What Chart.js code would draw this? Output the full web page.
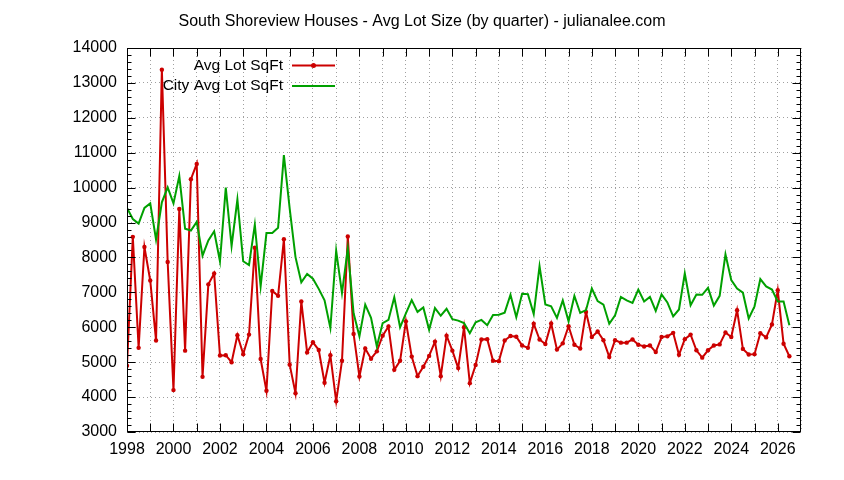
<!DOCTYPE html>
<html>
<head>
<meta charset="utf-8">
<script src="https://cdn.jsdelivr.net/npm/chart.js@4.4.1/dist/chart.umd.min.js"></script>
<style>
html,body{margin:0;padding:0;background:#fff;}
#wrap{width:844px;height:480px;}
</style>
</head>
<body>
<div id="wrap"><canvas id="c" width="844" height="480"></canvas></div>
<script>
const titleText = 'South Shoreview Houses - Avg Lot Size (by quarter) - julianalee.com';
const seriesNames = ['Avg Lot SqFt', 'City Avg Lot SqFt'];
const startYear = 1998;           // first quarter of the series
const quartersPerYear = 4;

// Quarterly values, 1998 Q1 .. 2026 Q3
const avgLotSqFt = [
  4900, 8590, 5410, 8300,
  7340, 5620, 13380, 7870,
  4200, 9390, 5330, 10240,
  10680, 4580, 7230, 7540,
  5190, 5200, 5000, 5770,
  5230, 5790, 8280, 5090,
  4180, 7040, 6900, 8520,
  4930, 4110, 6740, 5280,
  5570, 5350, 4410, 5200,
  3880, 5040, 8600, 5810,
  4590, 5390, 5100, 5310,
  5760, 6020, 4780, 5040,
  6170, 5160, 4600, 4870,
  5180, 5590, 4600, 5760,
  5330, 4830, 6000, 4400,
  4920, 5650, 5660, 5040,
  5030, 5620, 5750, 5730,
  5480, 5410, 6100, 5650,
  5520, 6110, 5360, 5540,
  6030, 5500, 5390, 6440,
  5720, 5880, 5630, 5150,
  5630, 5560, 5560, 5650,
  5500, 5450, 5480, 5290,
  5720, 5740, 5840, 5210,
  5660, 5790, 5340, 5130,
  5340, 5480, 5510, 5850,
  5720, 6490, 5380, 5220,
  5230, 5830, 5710, 6080,
  7060, 5530, 5170
];
const cityAvgLotSqFt = [
  9420, 9100, 8970, 9420,
  9550, 8510, 9580, 10010,
  9550, 10330, 8820, 8770,
  9020, 8050, 8490, 8750,
  7890, 10000, 8330, 9660,
  7890, 7780, 8940, 7170,
  8700, 8700, 8850, 10930,
  9400, 8010, 7290, 7530,
  7390, 7100, 6770, 5980,
  8190, 6980, 8250, 6400,
  5740, 6650, 6270, 5450,
  6120, 6210, 6860, 6000,
  6400, 6780, 6440, 6570,
  5930, 6550, 6330, 6530,
  6230, 6190, 6120, 5830,
  6140, 6210, 6060, 6350,
  6360, 6420, 6930, 6290,
  6960, 6950, 6380, 7750,
  6650, 6600, 6270, 6770,
  6170, 6900, 6410, 6490,
  7110, 6750, 6650, 6100,
  6340, 6870, 6770, 6700,
  7080, 6740, 6870, 6470,
  6940, 6710, 6310, 6510,
  7540, 6630, 6940, 6930,
  7130, 6620, 6900, 8090,
  7350, 7110, 6990, 6250,
  6600, 7380, 7170, 7080,
  6740, 6740, 6060
];
const xTickLabels = ['1998','2000','2002','2004','2006','2008','2010','2012','2014','2016','2018','2020','2022','2024','2026'];
const yTickLabels = ['3000','4000','5000','6000','7000','8000','9000','10000','11000','12000','13000','14000'];
const xMin = 1998, xMax = 2027;
const yMin = 3000, yMax = 14000;

const FONT = '"Liberation Sans", Arial, sans-serif';
const RED = '#cc0000';
const GREEN = '#00a000';

function toPoints(vals) {
  return vals.map((v, i) => ({ x: startYear + i / quartersPerYear, y: v }));
}

const framePlugin = {
  id: 'frameTicks',
  afterDatasetsDraw(chart) {
    const { ctx, chartArea: a, scales: { x, y } } = chart;
    ctx.save();
    ctx.strokeStyle = '#000';
    ctx.lineWidth = 1;
    const L = Math.round(a.left) + 0.5, R = Math.round(a.right) - 0.5;
    const T = Math.round(a.top) + 0.5, B = Math.round(a.bottom) - 0.5;
    ctx.beginPath();
    for (let yr = xMin + 1; yr < xMax; yr++) {
      const px = Math.round(x.getPixelForValue(yr)) + 0.5;
      ctx.moveTo(px, B); ctx.lineTo(px, B - 8);
      ctx.moveTo(px, T); ctx.lineTo(px, T + 8);
    }
    for (let v = yMin; v <= yMax; v += 200) {
      const py = Math.round(y.getPixelForValue(v)) + 0.5;
      const len = (v % 1000 === 0) ? 8 : 4;
      ctx.moveTo(L, py); ctx.lineTo(L + len, py);
      ctx.moveTo(R, py); ctx.lineTo(R - len, py);
    }
    ctx.stroke();
    ctx.strokeRect(L, T, R - L, B - T);
    ctx.restore();
  },
  afterDraw(chart) {
    const { ctx } = chart;
    ctx.save();
    ctx.fillStyle = '#000';
    ctx.font = '16px ' + FONT;
    ctx.textAlign = 'center';
    ctx.textBaseline = 'alphabetic';
    ctx.fillText(titleText, 422, 25.5);
    ctx.font = '15.5px ' + FONT;
    const rows = [
      { label: chart.data.datasets[0].label, color: RED, marker: true, y: 65.5 },
      { label: chart.data.datasets[1].label, color: GREEN, marker: false, y: 86 }
    ];
    rows.forEach(r => {
      ctx.fillStyle = '#000';
      ctx.textAlign = 'right';
      ctx.textBaseline = 'middle';
      ctx.fillText(r.label, 283, r.y);
      ctx.strokeStyle = r.color;
      ctx.lineWidth = 2;
      ctx.beginPath();
      ctx.moveTo(292, r.y); ctx.lineTo(335, r.y);
      ctx.stroke();
      if (r.marker) {
        ctx.fillStyle = r.color;
        ctx.beginPath();
        ctx.arc(313.5, r.y, 2.5, 0, Math.PI * 2);
        ctx.fill();
      }
    });
    ctx.restore();
  }
};

new Chart(document.getElementById('c'), {
  type: 'line',
  data: {
    datasets: [
      {
        label: seriesNames[0],
        data: toPoints(avgLotSqFt),
        borderColor: RED,
        backgroundColor: RED,
        borderWidth: 2,
        pointRadius: 2.2,
        pointBorderWidth: 0,
        pointBackgroundColor: RED,
        tension: 0,
        order: 2
      },
      {
        label: seriesNames[1],
        data: toPoints(cityAvgLotSqFt),
        borderColor: GREEN,
        backgroundColor: GREEN,
        borderWidth: 2,
        pointRadius: 0,
        tension: 0,
        order: 1
      }
    ]
  },
  options: {
    responsive: false,
    animation: false,
    devicePixelRatio: 1,
    layout: { padding: { left: 0, right: 43, top: 48, bottom: 0 } },
    plugins: {
      legend: { display: false },
      title: { display: false },
      tooltip: { enabled: false }
    },
    scales: {
      x: {
        type: 'linear',
        min: xMin,
        max: xMax,
        afterFit(s) { s.height = 48; },
        afterBuildTicks(s) {
          const t = [];
          for (let yr = xMin; yr <= xMax; yr++) t.push({ value: yr });
          s.ticks = t;
        },
        ticks: {
          autoSkip: false,
          maxRotation: 0,
          padding: 8,
          color: '#000',
          font: { family: FONT, size: 16 },
          callback: (v) => xTickLabels.includes(String(v)) ? String(v) : ''
        },
        grid: { color: '#a0a0a0', lineWidth: 1, drawTicks: false },
        border: { display: false, dash: [1, 3] }
      },
      y: {
        type: 'linear',
        min: yMin,
        max: yMax,
        afterFit(s) { s.width = 127; },
        afterBuildTicks(s) {
          s.ticks = yTickLabels.map(l => ({ value: Number(l) }));
        },
        ticks: {
          padding: 10,
          color: '#000',
          font: { family: FONT, size: 16 },
          callback: (v) => String(v)
        },
        grid: { color: '#a0a0a0', lineWidth: 1, drawTicks: false },
        border: { display: false, dash: [1, 3] }
      }
    }
  },
  plugins: [framePlugin]
});
</script>
</body>
</html>
